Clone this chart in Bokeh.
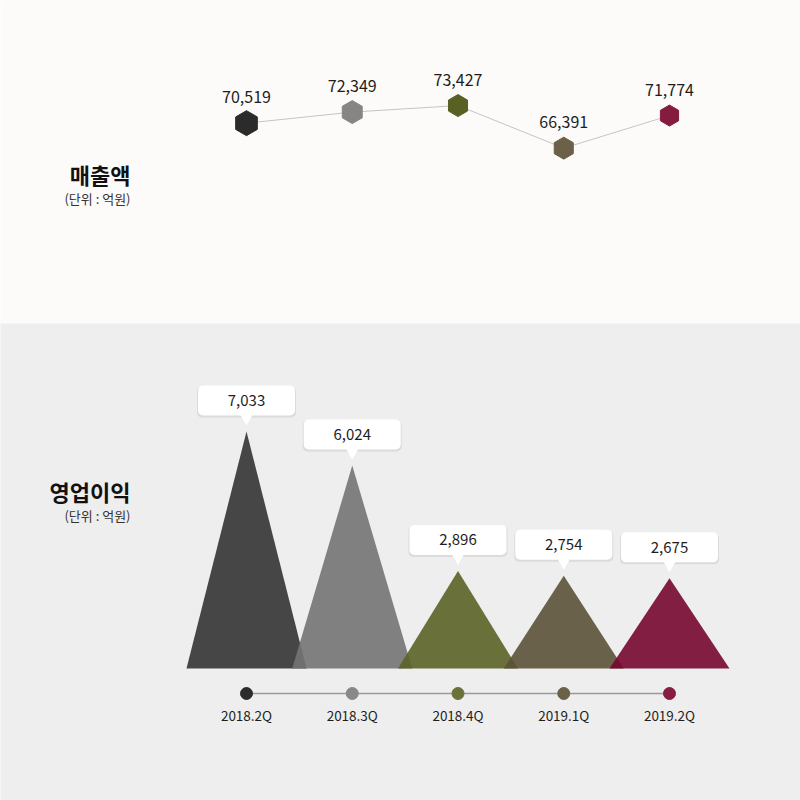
from bokeh.plotting import figure
from bokeh.models import Range1d, Label
from bokeh.layouts import column
from bokeh.embed import file_html
from bokeh.resources import INLINE
from bokeh.core.properties import value

# ---------------- data ----------------
quarters = ["2018.2Q", "2018.3Q", "2018.4Q", "2019.1Q", "2019.2Q"]
revenue = [70519, 72349, 73427, 66391, 71774]          # 매출액 (억원)
op_profit = [7033, 6024, 2896, 2754, 2675]             # 영업이익 (억원)

# ---------------- styles ----------------
hex_colors = ["#2b2b2b", "#858585", "#596023", "#6b6149", "#841c3f"]
hex_sizes = [25, 23, 22, 22, 21]
tri_colors = ["#333333", "#737373", "#5a6226", "#5b5138", "#76072d"]
dot_colors = ["#2d2c2d", "#888888", "#6b7239", "#6b6149", "#851e41"]
FONT = "Noto Sans CJK KR"
TXT = "#1e1e1e"

W = 800
TOP_H = 323
BOT_H = 477

idx = list(range(len(quarters)))
# horizontal layout: first category at 246px, step 105.75px
STEP = 105.75
x0 = -246 / STEP
x1 = x0 + W / STEP

# ---------------- top panel: 매출액 ----------------
ppu_top = 0.00605
top_ref_v, top_ref_px = 70892, 120.4
ty_end = top_ref_v + top_ref_px / ppu_top
ty_start = top_ref_v - (TOP_H - top_ref_px) / ppu_top

top = figure(width=W, height=TOP_H, x_range=Range1d(x0, x1), y_range=Range1d(ty_start, ty_end),
             toolbar_location=None, output_backend="svg", min_border=0,
             x_axis_type=None, y_axis_type=None, outline_line_color=None,
             background_fill_color="#fcfbf9", border_fill_color="#fcfbf9")
top.grid.visible = False

top.line(idx, revenue, line_color="#c4c4c4", line_width=1)
top.scatter(idx, revenue, marker="hex", size=hex_sizes, angle=1.5708,
            fill_color=hex_colors, line_color=hex_colors)
top.text(idx, revenue, text=[f"{v:,}" for v in revenue], y_offset=-26,
         text_align="center", text_baseline="middle", text_font=value(FONT),
         text_font_size="16px", text_color=TXT)

top.add_layout(Label(x=130, y=150, x_units="screen", y_units="screen", text="매출액",
                     text_align="right", text_baseline="middle", text_font=FONT,
                     text_font_size="22px", text_font_style="bold", text_color="#111111"))
top.add_layout(Label(x=130, y=125, x_units="screen", y_units="screen", text="(단위 : 억원)",
                     text_align="right", text_baseline="middle", text_font=FONT,
                     text_font_size="13px", text_color="#333333"))

# ---------------- bottom panel: 영업이익 ----------------
ppu = 0.0337
BASE_FROM_BOTTOM = 132
by_start = -BASE_FROM_BOTTOM / ppu
by_end = (BOT_H - BASE_FROM_BOTTOM) / ppu

bot = figure(width=W, height=BOT_H, x_range=Range1d(x0, x1), y_range=Range1d(by_start, by_end),
             toolbar_location=None, output_backend="svg", min_border=0,
             x_axis_type=None, y_axis_type=None, outline_line_color=None,
             background_fill_color="#eeeeee", border_fill_color="#eeeeee")
bot.grid.visible = False

HALF = 60 / STEP
bot.patches(xs=[[i - HALF, i, i + HALF] for i in idx],
            ys=[[0, v, 0] for v in op_profit],
            fill_color=tri_colors, fill_alpha=0.9, line_color=None)

# callout boxes above each apex
box_y = [v + 31 / ppu for v in op_profit]
shadow_y = [v + 29.5 / ppu for v in op_profit]
bot.rect(idx, shadow_y, width=99, height=31, width_units="screen", height_units="screen",
         fill_color="#cccccc", fill_alpha=0.55, line_color=None, border_radius=5)
bot.rect(idx, box_y, width=97, height=30, width_units="screen", height_units="screen",
         fill_color="white", line_color=None, border_radius=5)
PW = 6 / STEP
bot.patches(xs=[[i - PW, i + PW, i] for i in idx],
            ys=[[v + 16.5 / ppu, v + 16.5 / ppu, v + 6 / ppu] for v in op_profit],
            fill_color="white", line_color=None)
bot.text(idx, box_y, text=[f"{v:,}" for v in op_profit], text_align="center",
         text_baseline="middle", text_font=value(FONT), text_font_size="15px", text_color=TXT)

# timeline
tl_y = -25 / ppu
bot.line(idx, [tl_y] * len(idx), line_color="#9a9a9a", line_width=1.5)
bot.scatter(idx, [tl_y] * len(idx), size=12, fill_color=dot_colors, line_color=dot_colors)
bot.text(idx, [tl_y] * len(idx), text=quarters, y_offset=21, text_align="center",
         text_baseline="middle", text_font=value(FONT), text_font_size="13.5px", text_color=TXT)

bot.add_layout(Label(x=130, y=310, x_units="screen", y_units="screen", text="영업이익",
                     text_align="right", text_baseline="middle", text_font=FONT,
                     text_font_size="22px", text_font_style="bold", text_color="#111111"))
bot.add_layout(Label(x=130, y=285, x_units="screen", y_units="screen", text="(단위 : 억원)",
                     text_align="right", text_baseline="middle", text_font=FONT,
                     text_font_size="13px", text_color="#333333"))

layout = column(top, bot, spacing=0)
open("out.html", "w").write(file_html(layout, INLINE))
